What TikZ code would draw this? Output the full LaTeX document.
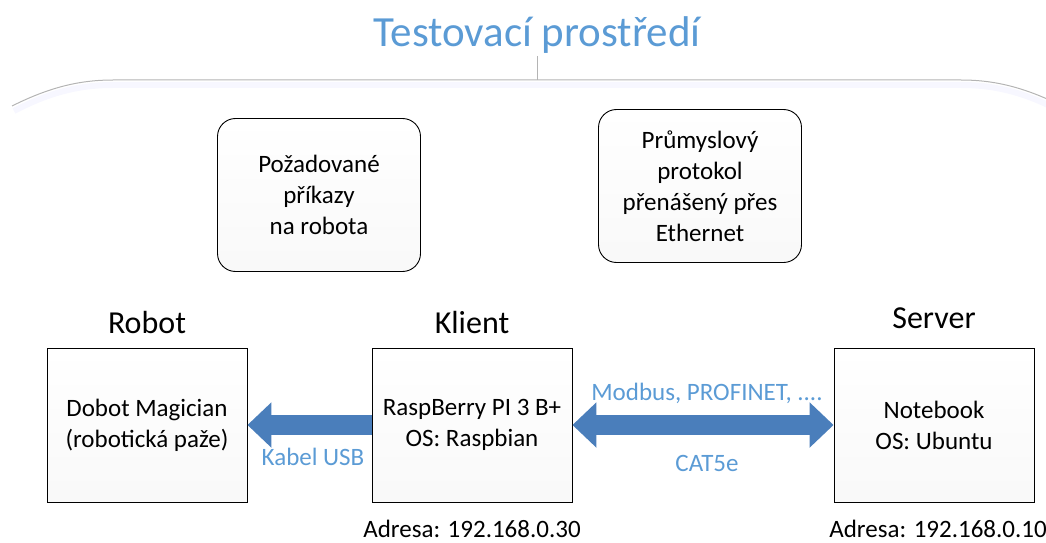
\documentclass[tikz,border=0pt]{standalone}
\usepackage{fontspec}
\setmainfont{Carlito}
\usetikzlibrary{positioning,arrows.meta}
\definecolor{EnvBlue}{HTML}{5B9BD5}
\definecolor{EnvArrow}{HTML}{4A7EBB}
\definecolor{EnvGray}{HTML}{B4B4B4}
\newcommand{\txtsize}{\fontsize{25}{31}\selectfont}

\begin{document}
\begin{tikzpicture}[x=1pt, y=1pt, font=\txtsize,
  devbox/.style={draw, line width=0.9pt, top color=white, bottom color=gray!5, minimum width=200pt, minimum height=154pt, align=center},
  notebox/.style={devbox, rounded corners=18pt, minimum width=203pt, minimum height=153pt},
  devlabel/.style={font=\fontsize{32}{36}\selectfont},
  bluelabel/.style={text=EnvBlue},
  blockarrow/.style={EnvArrow, line width=20pt, -{Triangle[width=44pt, length=24pt]}},
  blockarrows/.style={blockarrow, {Triangle[width=44pt, length=24pt]}-{Triangle[width=44pt, length=24pt]}}]
  \useasboundingbox (0,0) rectangle (1046,542);

  % title and bracket line
  \node[text=EnvBlue, font=\fontsize{43}{48}\selectfont] (title) at (537,507) {Testovací prostředí};
  \coordinate (tick) at (537,462);
  \draw[EnvGray, line width=0.8pt] (537,486) -- (tick);
  \draw[blue!3, line width=6pt] (14,431) .. controls (50,450) and (80,457) .. (113,457) -- (961,457) .. controls (994,457) and (1024,450) .. (1060,431);
  \draw[EnvGray, line width=1pt] (12,436) .. controls (50,455) and (80,462) .. (113,462) -- (961,462) .. controls (994,462) and (1024,455) .. (1062,436);

  % upper notes
  \node[notebox] (cmds) at (319,347) {Požadované\\příkazy\\na robota};
  \node[notebox] (proto) at (700,356) {Průmyslový\\protokol\\přenášený přes\\Ethernet};

  % devices
  \node[devbox] (robot) at (147,117) {Dobot Magician\\(robotická paže)};
  \node[devbox] (klient) at (472,117) {RaspBerry PI 3 B+\\OS: Raspbian};
  \node[devbox] (server) at (934,117) {Notebook\\OS: Ubuntu};
  \node[devlabel, above=10pt of robot] (robotlbl) {Robot};
  \node[devlabel, above=10pt of klient] (klientlbl) {Klient};
  \node[devlabel, above=15pt of server] (serverlbl) {Server};
  \node[below=14pt of klient] (klientip) {Adresa: 192.168.0.30};
  \node[below=14pt of server, xshift=4pt] (serverip) {Adresa: 192.168.0.10};

  % links
  \draw[blockarrow] (klient.west) -- (robot.east);
  \draw[blockarrows] (klient.east) -- (server.west);
  \node[bluelabel] (usb) at (313,85) {Kabel USB};
  \node[bluelabel] (bus) at (707,149) {Modbus, PROFINET, ....};
  \node[bluelabel] (cat) at (707,79) {CAT5e};
\end{tikzpicture}
\end{document}
